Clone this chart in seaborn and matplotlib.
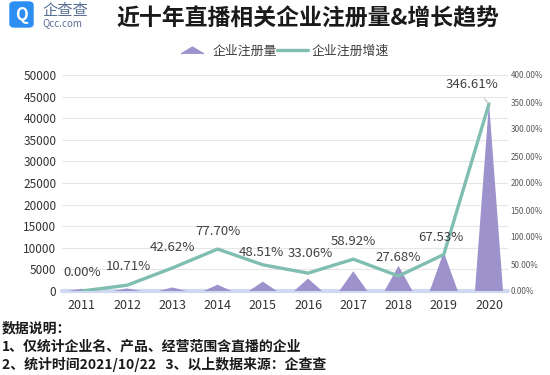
import numpy as np
import matplotlib.pyplot as plt
import seaborn as sns
from matplotlib.lines import Line2D
from matplotlib.patches import FancyBboxPatch

# data
years = ['2011', '2012', '2013', '2014', '2015', '2016', '2017', '2018', '2019', '2020']
registrations = [520, 575, 820, 1455, 2160, 2875, 4570, 5835, 9000, 43660]
growth_pct = [0.00, 10.71, 42.62, 77.70, 48.51, 33.06, 58.92, 27.68, 67.53, 346.61]

purple = '#9d92cc'
teal = '#7fbeb1'

sns.set_theme(style='white')
plt.rcParams['font.family'] = ['Noto Sans CJK SC', 'DejaVu Sans']

fig = plt.figure(figsize=(5.5, 3.75), dpi=100)
ax = fig.add_axes([62 / 550, 1 - 291 / 375, 446 / 550, 216 / 375])

xs = np.arange(len(years))

# "pyramid" bars for registrations
for x, v in zip(xs, registrations):
    ax.fill([x - 0.31, x, x + 0.31], [0, v, 0], color=purple, lw=0, zorder=2)
ax.axhline(0, color='#cfd9ef', lw=3, zorder=1.5, clip_on=False)

ax.set_xlim(-0.44, 9.42)
ax.set_ylim(0, 50000)
ax.set_yticks(range(0, 50001, 5000))
ax.set_xticks(xs)
ax.set_xticklabels(years)
ax.tick_params(axis='x', labelsize=9, colors='#333333', length=0, pad=6)
ax.tick_params(axis='y', labelsize=8.5, colors='#333333', length=0, pad=4)
ax.grid(axis='y', color='#e6e6e6', lw=0.8)
ax.set_axisbelow(True)
for s in ax.spines.values():
    s.set_visible(False)

# growth rate on the right axis
ax2 = ax.twinx()
sns.lineplot(x=xs, y=growth_pct, ax=ax2, color=teal, lw=2.4, zorder=3)
ax2.set_ylim(0, 400)
ax2.set_yticks(range(0, 401, 50))
ax2.set_yticklabels([f'{t:.2f}%' for t in range(0, 401, 50)])
ax2.tick_params(axis='y', labelsize=5.8, colors='#595959', length=0, pad=2)
ax2.grid(False)
for s in ax2.spines.values():
    s.set_visible(False)

label_dy = [19, 19, 20, 18, 12, 20, 18, 19, 17, 19]
label_dx = [0, 1, 0, 0, -1, 2, 0, 0, -3, -17]
for i, g in enumerate(growth_pct):
    kw = {}
    if i == len(growth_pct) - 1:
        kw['arrowprops'] = dict(arrowstyle='-', color='#bfbfbf', lw=0.8, shrinkA=4, shrinkB=0)
    ax2.annotate(f'{g:.2f}%', (xs[i], g), xytext=(label_dx[i], label_dy[i]),
                 textcoords='offset pixels', ha='center', va='center',
                 fontsize=9.5, color='#404040', zorder=5, **kw)

# legend
tri = [(-1, -0.3), (0, 0.3), (1, -0.3)]
handles = [Line2D([], [], ls='none', marker=tri, markersize=16.5, color=purple),
           Line2D([], [], color=teal, lw=2.4)]
fig.legend(handles, ['企业注册量', '企业注册增速'], loc='center', ncol=2,
           bbox_to_anchor=(283 / 550, 1 - 51 / 375), frameon=False, fontsize=9.3,
           labelcolor='#404040', handlelength=2.4, handletextpad=0.35, columnspacing=0.0)

# title and logo
fig.text(308 / 550, 1 - 19 / 375, '近十年直播相关企业注册量&增长趋势', ha='center', va='center',
         fontsize=16.5, fontweight='bold', color='#1a1a1a')
fig.patches.append(FancyBboxPatch((10 / 550, 1 - 27 / 375), 23 / 550, 25 / 375,
                                  boxstyle='round,pad=0,rounding_size=0.008',
                                  transform=fig.transFigure, color='#2b8ef0'))
fig.text(21.5 / 550, 1 - 14.5 / 375, 'Q', ha='center', va='center', fontsize=12,
         fontweight='bold', color='white')
fig.text(42 / 550, 1 - 11 / 375, '企查查', ha='left', va='center', fontsize=11,
         color='#5b6f94')
fig.text(42 / 550, 1 - 23.5 / 375, 'Qcc.com', ha='left', va='center', fontsize=7,
         color='#5b6f94')

# notes
note_kw = dict(ha='left', va='center', fontsize=10, fontweight='bold', color='#1a1a1a')
fig.text(2 / 550, 1 - 328 / 375, '数据说明：', **note_kw)
fig.text(2 / 550, 1 - 347 / 375, '1、仅统计企业名、产品、经营范围含直播的企业', **note_kw)
fig.text(2 / 550, 1 - 365 / 375, '2、统计时间2021/10/22   3、以上数据来源：企查查', **note_kw)

fig.savefig('out.png', dpi=100)
